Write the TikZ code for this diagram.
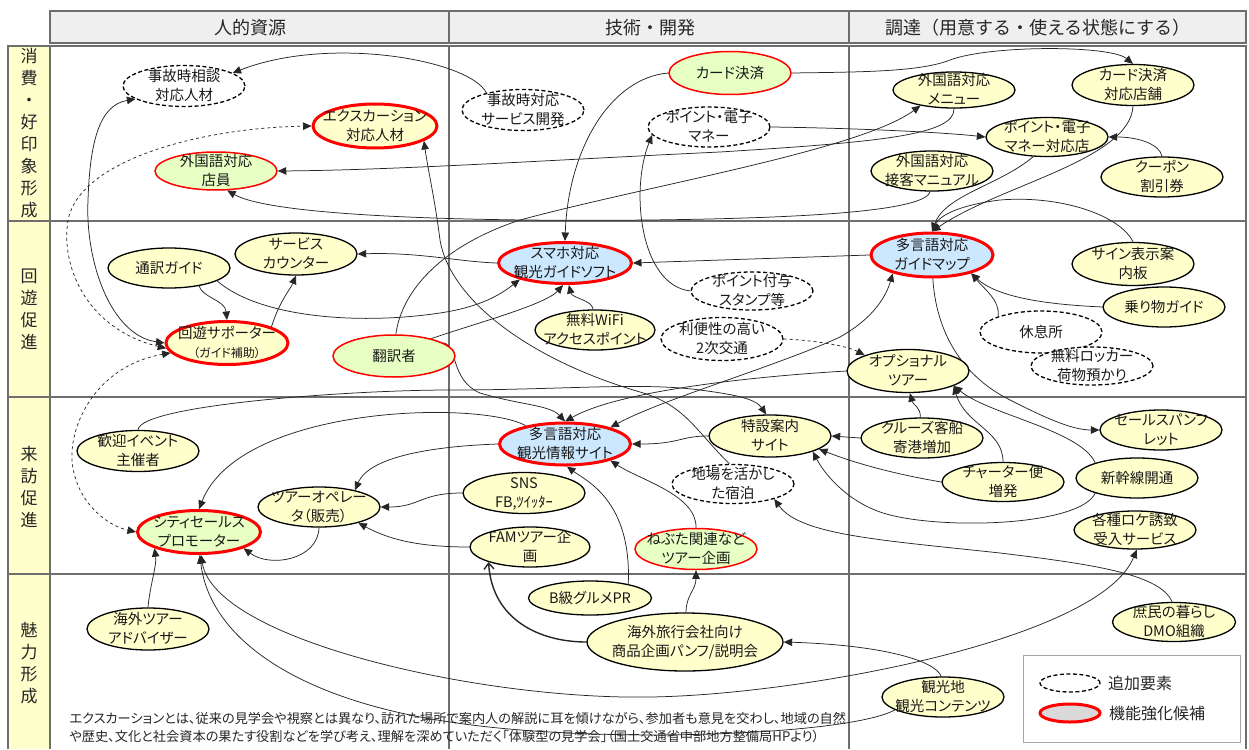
\documentclass[tikz,border=0pt]{standalone}
\usepackage{fontspec}
\setmainfont{Noto Sans CJK JP}[RawFeature={+palt}]
\newfontfamily\plainjp{Noto Sans CJK JP}
\usetikzlibrary{shapes.geometric,arrows.meta}
\definecolor{nodey}{HTML}{FFFFCC}
\definecolor{nodeg}{HTML}{E8FFC4}
\definecolor{nodeb}{HTML}{CCE8FF}
\definecolor{gridc}{HTML}{6E6E6E}
\definecolor{headc}{HTML}{EFEFEF}
\pgfdeclarelayer{bg}
\pgfsetlayers{bg,main}
% texte centre, sans agrandir l'ellipse
\newcommand{\tx}[1]{\raisebox{-.35em}[0pt][0pt]{\makebox[0pt]{\begin{tabular}{@{}c@{}}#1\end{tabular}}}}
\tikzset{
  zone/.style={draw=gridc, line width=2.6pt},
  head/.style={font=\plainjp\fontsize{18}{22}\selectfont, text=black!85},
  side/.style={font=\plainjp\fontsize{17}{22}\selectfont, align=center, text=black!85},
  item/.style={ellipse, inner sep=0pt, minimum width=122pt, minimum height=41pt,
    font=\fontsize{14.5}{19}\selectfont, text=black!90},
  base/.style={item, draw=black, fill=nodey, line width=1.3pt},
  extra/.style={item, draw=black, fill=white, line width=1.3pt, dash pattern=on 4pt off 2.5pt},
  keyb/.style={item, draw=red, fill=nodeb, line width=3pt},
  keyy/.style={item, draw=red, fill=nodey, line width=3pt},
  keyg/.style={item, draw=red, fill=nodeg, line width=3pt},
  cand/.style={item, draw=red, fill=nodeg, line width=1.5pt},
  link/.style={draw=black!85, line width=0.75pt, >={Triangle[length=8.5pt,width=7.5pt]}, ->},
  both/.style={link, <->},
}
\begin{document}
\begin{tikzpicture}[x=1pt,y=1pt]
\useasboundingbox (0,0) rectangle (1249,-749);
%\draw[help lines, step=50] (0,0) grid (1249,-749);

\begin{pgfonlayer}{bg}
  % grille
  \fill[headc] (50,-11) rectangle (1246,-43);
  \fill[nodey] (8,-45) rectangle (50,-749);
  \draw[zone] (50,-43) -- (50,-11) -- (1246,-11) -- (1246,-43) -- cycle;
  \draw[zone] (449,-11) -- (449,-43);
  \draw[zone] (849,-11) -- (849,-43);
  \draw[zone] (8,-749) -- (8,-46) -- (1246,-46) -- (1246,-749);
  \draw[zone] (50,-46) -- (50,-749);
  \draw[zone] (449,-46) -- (449,-749);
  \draw[zone] (849,-46) -- (849,-749);
  \draw[zone] (8,-221) -- (1246,-221);
  \draw[zone] (8,-397) -- (1246,-397);
  \draw[zone] (8,-574) -- (1246,-574);
\end{pgfonlayer}

\node[head] (h1) at (250,-28) {人的資源};
\node[head] (h2) at (650,-28) {技術・開発};
\node[head] (h3) at (1038,-28) {調達（用意する・使える状態にする）};
\node[side] (r1) at (29,-133) {消\\費\\・\\好\\印\\象\\形\\成};
\node[side] (r2) at (29,-309) {回\\遊\\促\\進};
\node[side] (r3) at (29,-487) {来\\訪\\促\\進};
\node[side] (r4) at (29,-663) {魅\\力\\形\\成};

% 消費・好印象形成
\node[extra] (jiko) at (184,-86) {\tx{事故時相談\\対応人材}};
\node[keyy, minimum width=124pt, minimum height=44pt] (excursion) at (375,-126) {\tx{エクスカーション\\対応人材}};
\node[cand, minimum height=38pt] (tenin) at (216,-171) {\tx{外国語対応\\店員}};
\node[extra] (jikodev) at (523,-110) {\tx{事故時対応\\サービス開発}};
\node[cand, minimum height=43pt] (card) at (730,-73) {\tx{カード決済}};
\node[extra, minimum height=40pt] (emoney) at (709,-127) {\tx{ポイント・電子\\マネー}};
\node[base, minimum height=36pt] (menu) at (954,-90) {\tx{外国語対応\\メニュー}};
\node[base] (cardshop) at (1133,-85) {\tx{カード決済\\対応店舗}};
\node[base, minimum height=39pt] (emoneyshop) at (1047,-137) {\tx{ポイント・電子\\マネー対応店}};
\node[base, minimum height=40pt] (manual) at (932,-171) {\tx{外国語対応\\接客マニュアル}};
\node[base, minimum height=40pt] (coupon) at (1162,-177) {\tx{クーポン\\割引券}};

% 回遊促進
\node[base, minimum height=40pt] (tsuyaku) at (169,-268) {\tx{通訳ガイド}};
\node[base, minimum height=42pt] (counter) at (296,-254) {\tx{サービス\\カウンター}};
\node[keyy, minimum height=43pt] (kaiyu) at (227,-343) {\tx{回遊サポーター\\{\fontsize{12}{16}\selectfont（ガイド補助）}}};
\node[cand, minimum height=42pt] (honyaku) at (394,-356) {\tx{翻訳者}};
\node[keyb, minimum width=133pt] (sumaho) at (565,-263) {\tx{スマホ対応\\観光ガイドソフト}};
\node[extra, minimum height=38pt] (stamp) at (752,-291) {\tx{ポイント付与\\スタンプ等}};
\node[base, minimum width=120pt, minimum height=40pt] (wifi) at (595,-330) {\tx{無料WiFi\\アクセスポイント}};
\node[extra, minimum height=43pt] (kotsu) at (722,-339) {\tx{利便性の高い\\2次交通}};
\node[keyb, minimum height=44pt] (guidemap) at (932,-255) {\tx{多言語対応\\ガイドマップ}};
\node[base, minimum height=43pt] (sign) at (1133,-264) {\tx{サイン表示案\\内板}};
\node[base, minimum height=40pt] (norimono) at (1164,-307) {\tx{乗り物ガイド}};
\node[extra, minimum height=42pt] (kyusoku) at (1041,-332) {\tx{休息所}};
\node[extra, minimum height=38pt] (locker) at (1092,-366) {\tx{無料ロッカー\\荷物預かり}};
\node[base, minimum height=43pt] (option) at (908,-371) {\tx{オプショナル\\ツアー}};

% 来訪促進
\node[base] (kangei) at (138,-451) {\tx{歓迎イベント\\主催者}};
\node[base, minimum height=40pt] (operator) at (319,-507) {\tx{ツアーオペレー\\タ（販売）}};
\node[keyg, minimum width=123pt, minimum height=43pt] (citysales) at (199,-532) {\tx{シティセールス\\プロモーター}};
\node[keyb, minimum width=131pt, minimum height=42pt] (infosite) at (565,-444) {\tx{多言語対応\\観光情報サイト}};
\node[base, minimum height=42pt] (tokusetsu) at (770,-436) {\tx{特設案内\\サイト}};
\node[base] (sns) at (524,-493) {\tx{SNS\\FB,ﾂｲｯﾀｰ}};
\node[extra, minimum height=39pt] (shukuhaku) at (733,-484) {\tx{地場を活かし\\た宿泊}};
\node[base, minimum width=120pt, minimum height=40pt] (fam) at (530,-547) {\tx{FAMツアー企\\画}};
\node[cand] (nebuta) at (696,-549) {\tx{ねぶた関連など\\ツアー企画}};
\node[base, minimum height=40pt] (cruise) at (922,-438) {\tx{クルーズ客船\\寄港増加}};
\node[base, minimum height=40pt] (pamph) at (1161,-430) {\tx{セールスパンフ\\レット}};
\node[base, minimum height=39pt] (charter) at (1003,-482) {\tx{チャーター便\\増発}};
\node[base, minimum height=40pt] (shinkansen) at (1137,-478) {\tx{新幹線開通}};
\node[base, minimum height=38pt] (loke) at (1135,-530) {\tx{各種ロケ誘致\\受入サービス}};

% 魅力形成
\node[base, minimum height=42pt] (advisor) at (148,-629) {\tx{海外ツアー\\アドバイザー}};
\node[base, minimum width=123pt, minimum height=34pt] (bkyu) at (590,-598) {\tx{B級グルメPR}};
\node[base, minimum width=196pt, minimum height=58pt] (setsumeikai) at (685,-642) {\tx{海外旅行会社向け\\商品企画パンフ/説明会}};
\node[base, minimum width=123pt, minimum height=39pt] (dmo) at (1174,-622) {\tx{庶民の暮らし\\DMO組織}};
\node[base, minimum height=40pt] (kankochi) at (943,-697) {\tx{観光地\\観光コンテンツ}};

\begin{pgfonlayer}{bg}
  \draw[link] (jikodev.155) .. controls (470,-60) and (330,-35) .. (jiko.15);
  \draw[both] (kaiyu.west) .. controls (110,-335) and (85,-260) .. (88,-200) .. controls (90,-140) and (100,-105) .. (jiko.195);
  \draw[both, dashed] (kaiyu.185) .. controls (90,-330) and (60,-270) .. (68,-220) .. controls (80,-160) and (200,-128) .. (excursion.west);
  \draw[both, dashed] (kaiyu.190) .. controls (100,-365) and (70,-420) .. (72,-460) .. controls (75,-500) and (105,-525) .. (citysales.west);
  \draw[link] (card.west) .. controls (610,-78) and (568,-150) .. (sumaho.north);
  \draw[link] (card.east) .. controls (860,-72) and (920,-72) .. (950,-60) .. controls (990,-45) and (1110,-45) .. (cardshop.north);
  \draw[link] (emoney.east) .. controls (850,-128) and (940,-132) .. (emoneyshop.west);
  \draw[link] (stamp.west) .. controls (640,-285) and (630,-190) .. (emoney.188);
  \draw[link] (menu.270) .. controls (955,-135) and (880,-142) .. (720,-152) .. controls (550,-160) and (400,-170) .. (tenin.east);
  \draw[link] (manual.265) .. controls (925,-210) and (820,-218) .. (650,-220) .. controls (450,-222) and (270,-215) .. (tenin.300);
  \draw[link] (honyaku.85) .. controls (400,-300) and (430,-250) .. (520,-220) .. controls (650,-185) and (860,-150) .. (menu.205);
  \draw[link] (cardshop.south) .. controls (1130,-160) and (1000,-185) .. (guidemap.north);
  \draw[link] (emoneyshop.235) .. controls (1000,-185) and (945,-195) .. (guidemap.north);
  \draw[link] (sign.north) .. controls (1120,-215) and (1060,-195) .. (1000,-200) .. controls (960,-205) and (940,-215) .. (guidemap.north);
  \draw[link] (coupon.north) .. controls (1160,-145) and (1140,-137) .. (emoneyshop.east);
  \draw[link] (guidemap.west) -- (sumaho.east);
  \draw[link] (norimono.west) .. controls (1060,-305) and (1000,-300) .. (guidemap.335);
  \draw[link] (kyusoku.160) .. controls (1000,-300) and (985,-290) .. (guidemap.335);
  \draw[both] (infosite.20) .. controls (660,-400) and (780,-365) .. (840,-337) .. controls (870,-320) and (885,-300) .. (guidemap.205);
  \draw[link, dashed] (kotsu.east) .. controls (810,-340) and (845,-345) .. (option.160);
  \draw[link] (option.west) .. controls (760,-376) and (620,-390) .. (infosite.north);
  \draw[link] (honyaku.15) .. controls (458,-345) and (450,-380) .. (480,-393) .. controls (520,-405) and (550,-405) .. (infosite.north);
  \draw[link] (tokusetsu.west) .. controls (680,-436) and (680,-444) .. (infosite.east);
  \draw[link] (cruise.west) -- (tokusetsu.east);
  \draw[link] (shukuhaku.100) .. controls (695,-430) and (685,-405) .. (640,-392) .. controls (530,-360) and (450,-300) .. (440,-240) .. controls (435,-200) and (428,-170) .. (excursion.-17);
  \draw[link] (kangei.north) .. controls (140,-405) and (350,-390) .. (450,-390) .. controls (560,-390) and (640,-382) .. (700,-390) .. controls (730,-394) and (755,-398) .. (tokusetsu.100);
  \draw[link] (sns.west) .. controls (420,-493) and (420,-507) .. (operator.east);
  \draw[link] (fam.west) .. controls (420,-547) and (390,-540) .. (operator.-22);
  \draw[link] (operator.south) .. controls (318,-560) and (270,-568) .. (citysales.-20);
  \draw[link] (infosite.west) .. controls (440,-446) and (370,-455) .. (operator.25);
  \draw[link] (infosite.155) .. controls (480,-400) and (240,-405) .. (citysales.north);
  \draw[link] (bkyu.20) .. controls (632,-500) and (585,-480) .. (infosite.-85);
  \draw[link] (nebuta.north) .. controls (697,-495) and (640,-480) .. (infosite.-20);
  \draw[link] (setsumeikai.88) .. controls (686,-595) and (696,-590) .. (nebuta.south);
  \draw[link, line width=1.4pt, >={Straight Barb[length=6pt,width=10pt]}] (setsumeikai.west) .. controls (540,-642) and (492,-620) .. (fam.200);
  \draw[link] (kankochi.95) .. controls (935,-660) and (880,-645) .. (setsumeikai.east);
  \draw[both] (citysales.-85) .. controls (215,-640) and (480,-700) .. (650,-697) .. controls (800,-695) and (1100,-640) .. (loke.-85);
  \draw[link] (kankochi.195) .. controls (850,-735) and (600,-745) .. (450,-722) .. controls (300,-700) and (210,-640) .. (citysales.-88);
  \draw[link] (advisor.north) .. controls (150,-585) and (157,-565) .. (citysales.200);
  \draw[link] (dmo.95) .. controls (1160,-575) and (1100,-565) .. (1000,-553) .. controls (880,-540) and (800,-535) .. (shukuhaku.-20);
  \draw[link] (shinkansen.200) .. controls (1080,-525) and (950,-530) .. (890,-515) .. controls (850,-505) and (825,-475) .. (tokusetsu.-20);
  \draw[link] (charter.west) .. controls (900,-475) and (860,-465) .. (tokusetsu.-15);
  \draw[link] (cruise.95) .. controls (921,-407) and (913,-405) .. (option.-85);
  \draw[link] (charter.north) .. controls (1003,-430) and (965,-425) .. (option.-18);
  \draw[link] (shinkansen.160) .. controls (1080,-430) and (990,-415) .. (option.-18);
  \draw[link] (guidemap.-88) .. controls (936,-330) and (960,-375) .. (1010,-400) .. controls (1040,-415) and (1070,-430) .. (pamph.west);
  \draw[link] (tsuyaku.-31) .. controls (203,-298) and (225,-300) .. (kaiyu.north);
  \draw[link] (kaiyu.20) .. controls (280,-300) and (290,-290) .. (counter.south);
  \draw[link] (sumaho.west) .. controls (460,-262) and (420,-252) .. (counter.east);
  \draw[link] (tsuyaku.-15) .. controls (260,-318) and (360,-325) .. (440,-313) .. controls (480,-307) and (500,-295) .. (sumaho.200);
  \draw[link] (honyaku.25) .. controls (470,-325) and (545,-305) .. (sumaho.-95);
  \draw[link] (wifi.95) .. controls (592,-300) and (572,-298) .. (sumaho.-80);
\end{pgfonlayer}

% legende
\node[draw=black!35, line width=0.8pt, minimum width=217pt, minimum height=87pt, inner sep=0pt] (legend) at (1131.5,-698.5) {};
\node[extra, minimum width=60pt, minimum height=18pt] (lgextra) at (1070,-683) {};
\node[keyy, fill=black!15, minimum width=60pt, minimum height=18pt] (lgkey) at (1070,-713) {};
\node[anchor=west, font=\fontsize{16}{19}\selectfont, text=black!85] (lgt1) at ([xshift=4pt]lgextra.east) {追加要素};
\node[anchor=west, font=\fontsize{16}{19}\selectfont, text=black!85] (lgt2) at ([xshift=4pt]lgkey.east) {機能強化候補};

\node[anchor=west, align=left, font=\fontsize{13.2}{18}\selectfont, text=black!85] (note) at (66,-728)
  {エクスカーションとは、従来の見学会や視察とは異なり、訪れた場所で案内人の解説に耳を傾けながら、参加者も意見を交わし、地域の自然\\
   や歴史、文化と社会資本の果たす役割などを学び考え、理解を深めていただく「体験型の見学会」（国土交通省中部地方整備局HPより）};
\end{tikzpicture}
\end{document}
